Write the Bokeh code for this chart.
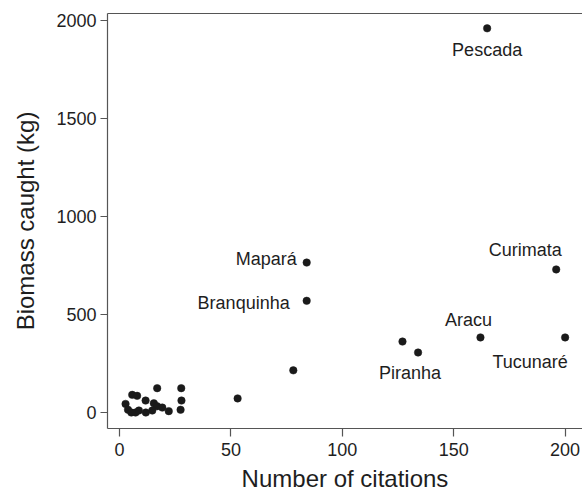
from bokeh.plotting import figure
from bokeh.models import Range1d, LinearAxis, FixedTicker
from bokeh.embed import file_html
from bokeh.resources import INLINE
from bokeh.core.properties import value

# ---- data ----
other_citations = [127, 78, 53,
                   16.9, 27.7, 5.7, 7.9, 11.7, 27.8, 2.7, 15.4, 16.9,
                   19.2, 14.7, 22.1, 27.4, 3.8, 5.3, 7.2, 11.8, 8.7]
other_biomass = [362, 215, 72,
                 124, 124, 90, 85, 61, 61, 44, 47, 32,
                 25, 10, 7, 14, 14, 0, 0, 0, 10]

label_names = ["Pescada", "Curimata", "Mapará", "Branquinha", "Aracu", "Tucunaré", "Piranha"]
label_citations = [165, 196, 84, 84, 162, 200, 134]
label_biomass = [1960, 730, 765, 570, 383, 383, 306]

x_ticks = [0, 50, 100, 150, 200]
y_ticks = [0, 500, 1000, 1500, 2000]

# ---- label styling (anchor, baseline, pixel offsets) ----
label_style = {
    "Pescada":    ("center", "middle", 0, 22),
    "Curimata":   ("center", "middle", -31, -19),
    "Mapará":     ("right", "middle", -10, -4),
    "Branquinha": ("right", "middle", -17, 2),
    "Aracu":      ("center", "middle", -12, -17),
    "Tucunaré":   ("center", "middle", -35, 25),
    "Piranha":    ("center", "middle", -8, 20),
}

FONT = "Liberation Sans"
INK = "#1a1a1a"
AXIS = "#555555"

p = figure(frame_width=475, frame_height=415,
           min_border_left=107, min_border_top=13, min_border_right=0, min_border_bottom=40,
           x_range=Range1d(-5.4, 207.8), y_range=Range1d(-81.6, 2035.7),
           output_backend="svg", toolbar_location=None,
           x_axis_location=None, y_axis_location=None)
p.outline_line_color = None
p.grid.visible = False
p.background_fill_color = "white"
p.border_fill_color = "white"

xa = LinearAxis(ticker=FixedTicker(ticks=x_ticks), axis_label="Number of citations")
ya = LinearAxis(ticker=FixedTicker(ticks=y_ticks), axis_label="Biomass caught (kg)")
for ax, tick_out, lab_sd, title_sd in ((xa, 8, 6, 6), (ya, 7, 4, 14)):
    ax.axis_line_color = AXIS
    ax.axis_line_width = 1.2
    ax.major_tick_line_color = AXIS
    ax.major_tick_line_width = 1.2
    ax.major_tick_out = tick_out
    ax.major_tick_in = 0
    ax.minor_tick_line_color = None
    ax.major_label_text_font = FONT
    ax.major_label_text_font_size = "18px"
    ax.major_label_text_color = "#1e1e1e"
    ax.major_label_standoff = lab_sd
    ax.axis_label_text_font = FONT
    ax.axis_label_text_font_size = "24px"
    ax.axis_label_text_font_style = "normal"
    ax.axis_label_text_color = "#1e1e1e"
    ax.axis_label_standoff = title_sd
p.add_layout(xa, "below")
p.add_layout(ya, "left")

top = LinearAxis(ticker=FixedTicker(ticks=[]))
top.axis_line_color = AXIS
top.axis_line_width = 1.2
top.major_tick_out = 0
top.major_tick_in = 0
top.minor_tick_out = 0
top.minor_tick_in = 0
top.major_label_text_font_size = "0px"
p.add_layout(top, "above")

all_x = other_citations + label_citations
all_y = other_biomass + label_biomass
p.scatter(all_x, all_y, size=7.5, fill_color=INK, line_color=INK, line_width=0.5)

for name, cx, cy in zip(label_names, label_citations, label_biomass):
    align, base, dx, dy = label_style[name]
    p.text(x=[cx], y=[cy], text=[name], x_offset=dx, y_offset=dy,
           text_align=align, text_baseline=base,
           text_font=value(FONT), text_font_size="18px", text_color="#1e1e1e")

open("out.html", "w").write(file_html(p, INLINE))
